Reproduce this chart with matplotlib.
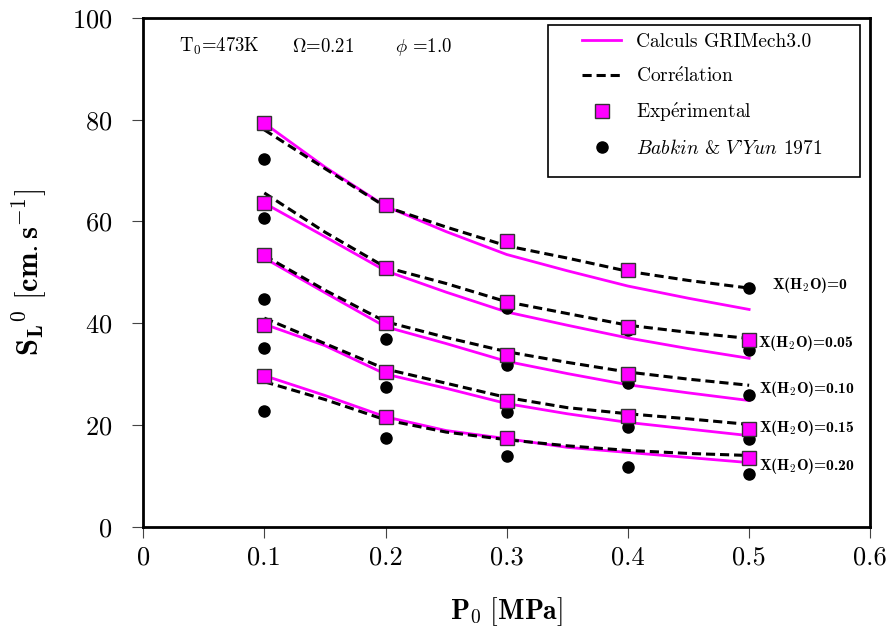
import matplotlib.pyplot as plt
from matplotlib.lines import Line2D
from matplotlib.patches import Rectangle
import numpy as np

plt.rcParams['font.family'] = ['cmr10', 'DejaVu Serif']
plt.rcParams['mathtext.fontset'] = 'cm'
plt.rcParams['axes.formatter.use_mathtext'] = True

# water mole fraction of each family of curves
water = ['0', '0.05', '0.10', '0.15', '0.20']

# pressures [MPa]
p_exp = [0.1, 0.2, 0.3, 0.4, 0.5]
p_curve = [0.1, 0.15, 0.2, 0.25, 0.3, 0.35, 0.4, 0.45, 0.5]

# Calculs GRIMech3.0
gri_000 = [79.3, 70.7, 63.0, 58.0, 53.5, 50.3, 47.3, 44.9, 42.7]
gri_005 = [63.6, 57.0, 50.3, 46.1, 42.2, 39.6, 37.1, 35.0, 33.1]
gri_010 = [52.8, 46.0, 39.3, 36.0, 32.5, 30.1, 27.9, 26.3, 24.8]
gri_015 = [39.8, 35.6, 30.0, 27.2, 24.2, 22.2, 20.5, 19.2, 17.9]
gri_020 = [29.7, 25.8, 21.6, 18.9, 17.3, 15.6, 14.6, 13.6, 12.6]

# Correlation
corr_000 = [78.0, 70.4, 62.9, 58.9, 55.2, 52.8, 50.2, 48.4, 46.9]
corr_005 = [65.6, 57.9, 51.0, 47.8, 44.2, 41.9, 39.6, 38.2, 37.0]
corr_010 = [53.3, 46.5, 40.3, 37.2, 34.4, 32.3, 30.4, 29.0, 27.8]
corr_015 = [41.0, 36.0, 31.0, 28.2, 25.4, 23.4, 22.2, 21.2, 20.1]
corr_020 = [28.5, 25.0, 21.0, 18.6, 17.1, 15.9, 15.0, 14.4, 14.0]

# experimental points (None = no point)
exp_000 = [79.3, 63.3, 56.2, 50.5, None]
exp_005 = [63.7, 50.8, 44.1, 39.2, 36.6]
exp_010 = [53.5, 40.1, 33.8, 30.0, None]
exp_015 = [39.6, 30.5, 24.8, 21.8, 19.3]
exp_020 = [29.6, 21.6, 17.4, None, 13.6]

# Babkin & V'Yun 1971
babkin_000 = [72.3, None, None, None, 46.9]
babkin_005 = [60.7, None, 42.9, 38.7, 34.8]
babkin_010 = [44.8, 36.8, 31.7, 28.2, 25.8]
babkin_015 = [35.1, 27.4, 22.6, 19.6, 17.3]
babkin_020 = [22.8, 17.4, 13.9, 11.7, 10.3]

gri = [gri_000, gri_005, gri_010, gri_015, gri_020]
corr = [corr_000, corr_005, corr_010, corr_015, corr_020]
exp = [exp_000, exp_005, exp_010, exp_015, exp_020]
babkin = [babkin_000, babkin_005, babkin_010, babkin_015, babkin_020]

MAGENTA = '#ff00ff'

fig = plt.figure(figsize=(8.89, 6.4), dpi=100)
ax = fig.add_axes([0.161, 0.177, 0.818, 0.795])

for g, c, e, b in zip(gri, corr, exp, babkin):
    ax.plot(p_curve, g, color=MAGENTA, lw=2.0, zorder=2)
    ax.plot(p_curve, c, color='black', lw=2.2, ls=(0, (3, 1.6)), zorder=2)
    ax.plot(p_exp, np.array(b, dtype=float), 'o', color='black', ms=8, zorder=3)
    ax.plot(p_exp, np.array(e, dtype=float), 's', mfc=MAGENTA, mec='#333333',
            mew=1.0, ms=10, zorder=4)

# labels of each water fraction, right of the curves
label_pos = [(0.519, 47.5), (0.507, 36.1), (0.508, 27.1), (0.508, 19.4), (0.508, 12.0)]
for w, (lx, ly) in zip(water, label_pos):
    ax.text(lx, ly, r'X(H$_\mathbf{2}$O)=' + w, family=['cmb10', 'DejaVu Serif'],
            fontsize=11.2, va='center', ha='left')

ax.text(0.030, 93.3, r'T$_0$=473K', fontsize=13.5, va='baseline')
ax.text(0.123, 93.3, r'$\Omega$=0.21', fontsize=13.5, va='baseline')
ax.text(0.208, 93.3, r'$\phi$ =1.0', fontsize=13.5, va='baseline')

# legend: frame drawn separately so it is wider than its content
ax.add_patch(Rectangle((0.557, 0.688), 0.429, 0.298, transform=ax.transAxes,
                       facecolor='white', edgecolor='black', lw=1.2, zorder=5))
handles = [
    Line2D([], [], color=MAGENTA, lw=2.0),
    Line2D([], [], color='black', lw=2.2, ls=(0, (3, 1.6))),
    Line2D([], [], ls='none', marker='s', mfc=MAGENTA, mec='#333333', mew=1.0, ms=10),
    Line2D([], [], ls='none', marker='o', color='black', ms=8),
]
labels = ['Calculs GRIMech3.0', r'Corr$\acute{\rm e}$lation', r'Exp$\acute{\rm e}$rimental',
          r"$Babkin$ & $V$'$Yun$ 1971"]
leg = ax.legend(handles, labels, loc='upper left', bbox_to_anchor=(0.604, 0.970),
                borderaxespad=0, borderpad=0, fontsize=14, frameon=False,
                handlelength=2.0, handletextpad=0.75, labelspacing=0.78)
leg.set_zorder(6)

ax.set_xlim(0, 0.6)
ax.set_ylim(0, 100)
ax.set_xticks([0, 0.1, 0.2, 0.3, 0.4, 0.5, 0.6])
ax.set_xticklabels(['0', '0.1', '0.2', '0.3', '0.4', '0.5', '0.6'])
ax.set_yticks([0, 20, 40, 60, 80, 100])

for s in ax.spines.values():
    s.set_linewidth(2.0)
ax.tick_params(direction='out', length=8, width=0.8, color='#444444', labelsize=19)
ax.tick_params(axis='x', pad=6)
ax.tick_params(axis='y', pad=14)

ax.set_xlabel(r'$\mathbf{P_0\ [MPa]}$', fontsize=20)
ax.set_ylabel(r'$\mathbf{S_L{}^0\ [cm.s^{-1}]}$', fontsize=22)
ax.xaxis.set_label_coords(0.5, -0.135)
ax.yaxis.set_label_coords(-0.13, 0.5)

fig.savefig('out.png', dpi=100)
